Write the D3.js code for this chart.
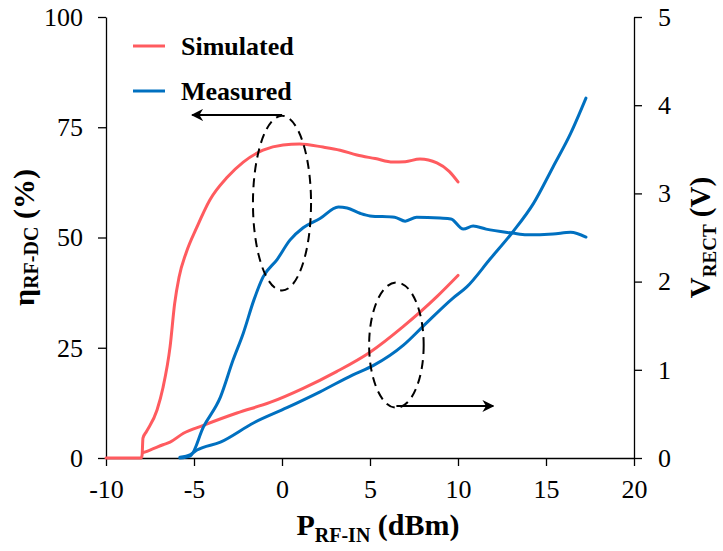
<!DOCTYPE html>
<html>
<head>
<meta charset="utf-8">
<script src="https://cdn.jsdelivr.net/npm/d3@7"></script>
<style>
  body { margin: 0; background: #fff; }
  svg text { font-family: "Liberation Serif", "Times New Roman", "DejaVu Serif", serif; }
</style>
</head>
<body>
<div id="chart"></div>
<script>
// x values (dBm) and series
var simEffX = [-10, -8.0, -7.95, -7.9, -7.7, -7.1, -6.76, -6.36, -6.1, -5.85, -5.45, -4.83, -4.1, -3.1, -2.2, -1.08, 0.06, 1.0, 2.33, 3.3, 4.26, 5.3, 6.3, 7.0, 7.84, 8.8, 9.5, 10.0];
var simEff  = [0, 0, 0.6, 4.5, 6.0, 10.9, 16, 25.2, 35, 41, 46.5, 52.4, 58.5, 63.7, 67.1, 69.8, 71, 71.2, 70.5, 69.8, 68.7, 67.9, 67.1, 67.2, 67.8, 66.9, 65, 62.6];

var measEffX = [-5.8, -5.2, -4.47, -3.5, -2.78, -2.2, -1.6, -1.08, -0.28, 0.45, 1.2, 2.16, 3.2, 3.7, 4.43, 5.0, 6.4, 7.0, 7.65, 8.98, 9.6, 10.3, 10.86, 11.6, 13.1, 13.9, 15.4, 16.4, 17.27];
var measEff  = [0, 0.5, 7, 13.8, 22.2, 28.3, 35.8, 41, 45, 49.4, 52.2, 54.3, 56.9, 56.7, 55.5, 54.9, 54.6, 53.7, 54.6, 54.4, 54.2, 51.9, 52.6, 51.9, 51.0, 50.6, 50.8, 51.2, 50.1];

var simVX = [-7.9, -7.5, -6.76, -6.36, -5.6, -4.47, -2.56, -0.68, 1.2, 3.1, 5.0, 6.88, 8.8, 10.0];
var simV  = [0.06, 0.09, 0.15, 0.18, 0.28, 0.37, 0.51, 0.63, 0.79, 0.98, 1.2, 1.49, 1.83, 2.07];

var measVX = [-5.8, -5.2, -4.83, -3.5, -1.6, 0.28, 2.16, 4.0, 5.2, 6.9, 8.0, 9.7, 10.5, 11.8, 13.1, 14.3, 15.4, 16.4, 17.27];
var measV  = [0.01, 0.04, 0.09, 0.18, 0.40, 0.57, 0.75, 0.94, 1.05, 1.28, 1.49, 1.81, 1.94, 2.25, 2.56, 2.89, 3.3, 3.68, 4.08];

var xTicks = [-10, -5, 0, 5, 10, 15, 20];
var effTicks = [0, 25, 50, 75, 100];
var vTicks = [0, 1, 2, 3, 4, 5];
var legendNames = ["Simulated", "Measured"];

var RED = "#ff5b5f", BLUE = "#0070c0";
var W = 723, H = 551;
var margin = { top: 17, right: 89, bottom: 93, left: 106 },
    width = W - margin.left - margin.right,
    height = H - margin.top - margin.bottom;

var svg = d3.select("#chart").append("svg")
    .attr("width", W).attr("height", H)
    .append("g")
    .attr("transform", "translate(" + margin.left + "," + margin.top + ")");

var x = d3.scaleLinear().domain([-10, 20]).range([0, width]);
var yL = d3.scaleLinear().domain([0, 100]).range([height, 0]);
var yR = d3.scaleLinear().domain([0, 5]).range([height, 0]);

var fmt = function(d) { return String(d); }; // plain hyphen minus, no decimals

function styleAxis(g) {
    g.attr("font-family", null).attr("font-size", null);
    g.selectAll("path").attr("stroke", "#000").attr("stroke-width", 1.3);
    g.selectAll("line").attr("stroke", "#000").attr("stroke-width", 1.3);
    g.selectAll("text").attr("font-size", 26).attr("fill", "#000");
}

// axes
svg.append("g")
    .attr("transform", "translate(0," + height + ")")
    .call(d3.axisBottom(x).tickValues(xTicks).tickFormat(fmt).tickSize(8).tickSizeOuter(0).tickPadding(14))
    .call(styleAxis);

svg.append("g")
    .call(d3.axisLeft(yL).tickValues(effTicks).tickFormat(fmt).tickSize(8).tickSizeOuter(0).tickPadding(15))
    .call(styleAxis);

svg.append("g")
    .attr("transform", "translate(" + width + ",0)")
    .call(d3.axisRight(yR).tickValues(vTicks).tickFormat(fmt).tickSize(8).tickSizeOuter(0).tickPadding(16))
    .call(styleAxis);

// curves
function series(xs, ys, yScale, color) {
    var pts = xs.map(function(d, i) { return [d, ys[i]]; });
    var line = d3.line()
        .x(function(d) { return x(d[0]); })
        .y(function(d) { return yScale(d[1]); })
        .curve(d3.curveMonotoneX);
    svg.append("path")
        .datum(pts)
        .attr("d", line)
        .attr("fill", "none")
        .attr("stroke", color)
        .attr("stroke-width", 3)
        .attr("stroke-linejoin", "round")
        .attr("stroke-linecap", "round");
}
series(simEffX, simEff, yL, RED);
series(simVX, simV, yR, RED);
series(measEffX, measEff, yL, BLUE);
series(measVX, measV, yR, BLUE);

// annotations: dashed ellipses with arrows pointing to their axis
svg.append("defs").append("marker")
    .attr("id", "arrow")
    .attr("viewBox", "0 0 10 10")
    .attr("refX", 9).attr("refY", 5)
    .attr("markerWidth", 6).attr("markerHeight", 6)
    .attr("orient", "auto-start-reverse")
    .append("path")
    .attr("d", "M0,0 L10,5 L0,10 L3,5 Z")
    .attr("fill", "#000");

function ellipse(cx, cy, rxD, ryD, yScale) {
    svg.append("ellipse")
        .attr("cx", x(cx)).attr("cy", yScale(cy))
        .attr("rx", x(cx + rxD) - x(cx))
        .attr("ry", yScale(cy - ryD) - yScale(cy))
        .attr("fill", "none")
        .attr("stroke", "#000")
        .attr("stroke-width", 2)
        .attr("stroke-dasharray", "9,6");
}
ellipse(0, 57.8, 1.65, 19.8, yL);
ellipse(6.5, 1.28, 1.55, 0.71, yR);

svg.append("line")
    .attr("x1", x(0)).attr("y1", yL(77.8))
    .attr("x2", x(-5.1)).attr("y2", yL(77.8))
    .attr("stroke", "#000").attr("stroke-width", 2)
    .attr("marker-end", "url(#arrow)");
svg.append("line")
    .attr("x1", x(6.5)).attr("y1", yR(0.59))
    .attr("x2", x(12)).attr("y2", yR(0.59))
    .attr("stroke", "#000").attr("stroke-width", 2)
    .attr("marker-end", "url(#arrow)");

// legend
var legend = svg.append("g").attr("transform", "translate(27,29)");
legendNames.forEach(function(name, i) {
    legend.append("line")
        .attr("x1", 0).attr("x2", 32)
        .attr("y1", i * 45).attr("y2", i * 45)
        .attr("stroke", i == 0 ? RED : BLUE)
        .attr("stroke-width", 3);
    legend.append("text")
        .attr("x", 48).attr("y", i * 45 + 9)
        .attr("font-size", 26).attr("font-weight", "bold")
        .text(name);
});

// axis titles
var xt = svg.append("text")
    .attr("x", width / 2 + 8).attr("y", height + 77)
    .attr("text-anchor", "middle")
    .attr("font-size", 30).attr("font-weight", "bold");
xt.append("tspan").text("P");
xt.append("tspan").attr("font-size", 20).attr("dy", 7).text("RF-IN");
xt.append("tspan").attr("dy", -7).text(" (dBm)");

var lt = svg.append("text")
    .attr("transform", "translate(" + (-72) + "," + (height / 2) + ") rotate(-90)")
    .attr("text-anchor", "middle")
    .attr("font-size", 30).attr("font-weight", "bold");
lt.append("tspan").text("η");
lt.append("tspan").attr("font-size", 20).attr("dy", 4).text("RF-DC");
lt.append("tspan").attr("dy", -4).text(" (%)");

var rt = svg.append("text")
    .attr("transform", "translate(" + (width + 76) + "," + (height / 2) + ") rotate(-90)")
    .attr("text-anchor", "middle")
    .attr("font-size", 29).attr("font-weight", "bold");
rt.append("tspan").text("V");
rt.append("tspan").attr("font-size", 19).attr("dy", 6).text("RECT");
rt.append("tspan").attr("dy", -6).text(" (V)");
</script>
</body>
</html>
